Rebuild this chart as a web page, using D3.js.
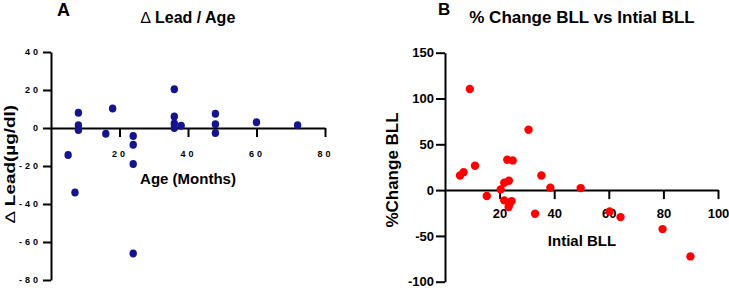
<!DOCTYPE html>
<html>
<head>
<meta charset="utf-8">
<script src="https://cdn.jsdelivr.net/npm/d3@7"></script>
<style>
	body { margin: 0; background: #fff; }
	svg { display: block; font-family: "Liberation Sans", Arial, sans-serif; }
	.axis path, .axis line { stroke: #000; stroke-width: 2; }
	.axis text { fill: #000; font-weight: bold; }
</style>
</head>
<body>
<svg id="chart" width="729" height="288"></svg>
<script>
// panel A - change in lead vs age
const ageMonths = [8, 8, 8, 18, 16, 24, 24, 24, 24, 5, 7, 36, 36, 36, 36, 38, 48, 48, 48, 60, 72]
const leadChange = [8, 1.4, -1, 10.2, -3, -4.2, -8.8, -19, -66, -14.2, -34, 20.4, 6, 2.4, 0, 1.2, 7.5, 2, -2.6, 3, 1.4]
const ageTicks = [20, 40, 60, 80]
const leadTicks = [-80, -60, -40, -20, 0, 20, 40]

// panel B - % change vs initial BLL
const initialBLL = [9.1, 30.6, 5.5, 6.8, 11, 15.3, 20.4, 21.7, 23.4, 22.8, 24.8, 21.7, 24.4, 23.6, 23.3, 33, 35.3, 38.6, 49.7, 60.3, 64.3, 79.7, 89.9]
const pctChange = [110.3, 65.9, 16, 19.5, 26.6, -6.5, 0.8, 8, 10.2, 33.2, 32.4, -11.2, -12, -14.9, -18.5, -25.8, 16, 2.6, 2.2, -23.3, -29.5, -42.6, -72.4]
const bllTicks = [20, 40, 60, 80, 100]
const pctTicks = [-100, -50, 0, 50, 100, 150]

const svg = d3.select("#chart")

svg.append("rect").attr("width", 729).attr("height", 288).attr("fill", "#fff")

//------ panel A
let xA = d3.scaleLinear().domain([0, 80]).range([51, 325])
let yA = d3.scaleLinear().domain([-80, 40]).range([280, 52])

let axA = svg.append("g")
	.attr("class", "axis")
	.attr("transform", "translate(0," + yA(0) + ")")
	.call(d3.axisBottom(xA).tickValues(ageTicks).tickSize(9).tickPadding(14).tickSizeOuter(0))
axA.selectAll("text").style("font-size", "9px").style("letter-spacing", "3px")

let ayA = svg.append("g")
	.attr("class", "axis")
	.attr("transform", "translate(" + xA(0) + ",0)")
	.call(d3.axisLeft(yA).tickValues(leadTicks).tickSize(8).tickPadding(2).tickSizeOuter(0))
ayA.selectAll("text").style("font-size", "9px").style("letter-spacing", "3px")
	.text(d => d < 0 ? "-" + Math.abs(d) : d)

svg.append("g").selectAll("ellipse")
	.data(ageMonths)
	.join("ellipse")
	.attr("cx", (d, i) => xA(d))
	.attr("cy", (d, i) => yA(leadChange[i]))
	.attr("rx", 3.7)
	.attr("ry", 4)
	.attr("fill", "#14148c")

svg.append("text").attr("x", 57).attr("y", 16)
	.style("font-size", "18px").style("font-weight", "bold").text("A")
let tA = svg.append("text").attr("x", 188).attr("y", 23).attr("text-anchor", "middle")
	.style("font-size", "16px").style("font-weight", "bold")
tA.append("tspan").style("font-weight", "normal").text("∆")
tA.append("tspan").text(" Lead / Age")
svg.append("text").attr("x", 188).attr("y", 184).attr("text-anchor", "middle")
	.style("font-size", "15px").style("font-weight", "bold").text("Age (Months)")
let yLabA = svg.append("text")
	.attr("transform", "translate(15,164) rotate(-90)")
	.attr("text-anchor", "middle")
	.attr("textLength", 118).attr("lengthAdjust", "spacingAndGlyphs")
	.style("font-size", "14px").style("font-weight", "bold")
yLabA.append("tspan").style("font-weight", "normal").text("∆")
yLabA.append("tspan").text(" Lead(µg/dl)")

//------ panel B
let xB = d3.scaleLinear().domain([0, 100]).range([445, 718])
let yB = d3.scaleLinear().domain([-100, 150]).range([281.7, 52.7])

let axB = svg.append("g")
	.attr("class", "axis")
	.attr("transform", "translate(0," + yB(0) + ")")
	.call(d3.axisBottom(xB).tickValues(bllTicks).tickSize(9).tickPadding(10).tickSizeOuter(0))
axB.selectAll("text").style("font-size", "13px")

let ayB = svg.append("g")
	.attr("class", "axis")
	.attr("transform", "translate(" + xB(0) + ",0)")
	.call(d3.axisLeft(yB).tickValues(pctTicks).tickSize(9).tickPadding(2).tickSizeOuter(0))
ayB.selectAll("text").style("font-size", "13px")
	.text(d => d < 0 ? "-" + Math.abs(d) : d)

svg.append("g").selectAll("circle")
	.data(initialBLL)
	.join("circle")
	.attr("cx", (d, i) => xB(d))
	.attr("cy", (d, i) => yB(pctChange[i]))
	.attr("r", 4.2)
	.attr("fill", "#ff0000")

svg.append("text").attr("x", 438).attr("y", 15)
	.style("font-size", "17px").style("font-weight", "bold").text("B")
svg.append("text").attr("x", 582).attr("y", 23).attr("text-anchor", "middle")
	.style("font-size", "17px").style("font-weight", "bold").text("% Change BLL vs Intial BLL")
svg.append("text").attr("x", 582).attr("y", 246).attr("text-anchor", "middle")
	.style("font-size", "15px").style("font-weight", "bold").text("Intial BLL")
svg.append("text")
	.attr("transform", "translate(398,170) rotate(-90)")
	.attr("text-anchor", "middle")
	.style("font-size", "17px").style("font-weight", "bold").text("%Change BLL")
</script>
</body>
</html>
